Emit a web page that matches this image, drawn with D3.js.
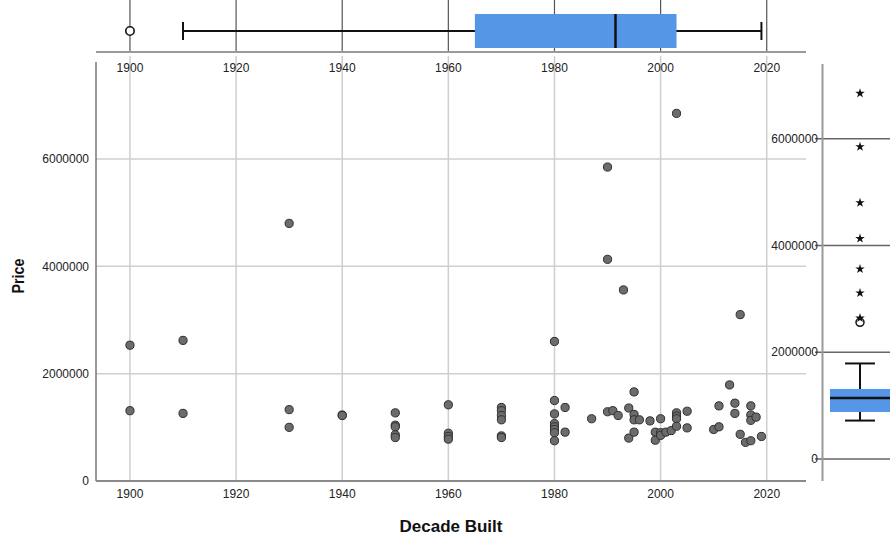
<!DOCTYPE html>
<html>
<head>
<meta charset="utf-8">
<script src="https://cdn.jsdelivr.net/npm/d3@7"></script>
<style>
  html, body { margin: 0; padding: 0; background: #fff; }
  svg { display: block; font-family: "Liberation Sans", Arial, sans-serif; }
</style>
</head>
<body>
<svg id="chart" width="890" height="538"></svg>
<script>
// Year built and sale price, one entry per house
const builtYears = [
  1900, 1900,
  1910, 1910,
  1930, 1930, 1930,
  1940, 1940,
  1950, 1950, 1950, 1950, 1950,
  1960, 1960, 1960, 1960,
  1970, 1970, 1970, 1970, 1970, 1970,
  1980, 1980, 1980, 1980, 1980, 1980, 1980, 1980,
  1982, 1982,
  1987,
  1990, 1990, 1990,
  1991, 1992, 1993,
  1994, 1994,
  1995, 1995, 1995, 1995,
  1996, 1998,
  1999, 1999,
  2000, 2000, 2000,
  2001, 2002,
  2003, 2003, 2003, 2003, 2003,
  2005, 2005,
  2010,
  2011, 2011,
  2013,
  2014, 2014,
  2015, 2015,
  2016,
  2017, 2017, 2017, 2017,
  2018, 2019
];
const prices = [
  2530000, 1310000,
  2620000, 1260000,
  4800000, 1330000, 1000000,
  1230000, 1220000,
  1270000, 1040000, 1010000, 860000, 810000,
  1420000, 890000, 830000, 780000,
  1370000, 1310000, 1220000, 1140000, 840000, 810000,
  2600000, 1500000, 1250000, 1070000, 1010000, 960000, 900000, 750000,
  1370000, 910000,
  1160000,
  5850000, 4130000, 1290000,
  1310000, 1220000, 3560000,
  1360000, 800000,
  1660000, 1240000, 1140000, 910000,
  1140000, 1120000,
  910000, 760000,
  1160000, 900000, 850000,
  910000, 940000,
  6850000, 1270000, 1210000, 1160000, 1020000,
  1300000, 990000,
  960000,
  1400000, 1010000,
  1790000,
  1450000, 1260000,
  3100000, 870000,
  720000,
  1400000, 1230000, 1130000, 750000,
  1190000, 830000
];

// Box plot summaries: [lower whisker, Q1, median, Q3, upper whisker]
const yearBox = [1910, 1965, 1991.5, 2003, 2019];
const yearOutliers = [1900];
const priceBox = [720000, 881000, 1143000, 1312000, 1790000];
const priceOutliers = [2560000];
const priceExtremes = [6850000, 5850000, 4800000, 4130000, 3560000, 3110000, 2640000];

// Axis ticks
const yearTicks = [1900, 1920, 1940, 1960, 1980, 2000, 2020];
const priceTicks = [0, 2000000, 4000000, 6000000];

const svg = d3.select("#chart");
const boxBlue = "#5596e6";

// Scales: shared year scale, main price scale and the marginal price scale
const x = d3.scaleLinear().domain([1893.6, 2027.4]).range([96, 806]);
const y = d3.scaleLinear().domain([0, 7770000]).range([481, 64]);
const yR = d3.scaleLinear().domain([0, 7400000]).range([459, 64]);

const fmt = d3.format("d");

// ---------- main scatter panel ----------
const mainG = svg.append("g");

// vertical grid lines
mainG.selectAll("line.vgrid").data(yearTicks).join("line")
  .attr("x1", d => x(d)).attr("x2", d => x(d))
  .attr("y1", 56).attr("y2", 481)
  .attr("stroke", "#cfcfcf").attr("stroke-width", 1.5);

// horizontal grid lines
mainG.selectAll("line.hgrid").data(priceTicks.filter(d => d > 0)).join("line")
  .attr("x1", 96).attr("x2", 806)
  .attr("y1", d => y(d)).attr("y2", d => y(d))
  .attr("stroke", "#cfcfcf").attr("stroke-width", 1.5);

// left axis line
mainG.append("line")
  .attr("x1", 96).attr("x2", 96).attr("y1", 62).attr("y2", 481)
  .attr("stroke", "#555").attr("stroke-width", 1.2);

// bottom axis line
mainG.append("line")
  .attr("x1", 96).attr("x2", 806).attr("y1", y(0)).attr("y2", y(0))
  .attr("stroke", "#8a8a8a").attr("stroke-width", 2);

// y tick labels
mainG.selectAll("text.ytick").data(priceTicks).join("text")
  .attr("x", 89).attr("y", d => y(d)).attr("dy", "0.35em")
  .attr("text-anchor", "end").attr("font-size", 12).attr("fill", "#222")
  .text(d => fmt(d));

// x tick labels
mainG.selectAll("text.xtick").data(yearTicks).join("text")
  .attr("x", d => x(d)).attr("y", 494).attr("dy", "0.35em")
  .attr("text-anchor", "middle").attr("font-size", 12).attr("fill", "#222")
  .text(d => d);

// points
const points = builtYears.map((yr, i) => ({ yr, price: prices[i] }));
mainG.selectAll("circle.pt").data(points).join("circle")
  .attr("cx", d => x(d.yr)).attr("cy", d => y(d.price))
  .attr("r", 4.1)
  .attr("fill", "#6c6c6c").attr("stroke", "#2e2e2e").attr("stroke-width", 1);

// axis titles
svg.append("text")
  .attr("x", 451).attr("y", 526).attr("dy", "0.35em")
  .attr("text-anchor", "middle").attr("font-size", 17).attr("font-weight", "bold")
  .attr("fill", "#111").text("Decade Built");

svg.append("text")
  .attr("transform", "translate(18,276) rotate(-90)")
  .attr("dy", "0.35em")
  .attr("text-anchor", "middle").attr("font-size", 17).attr("font-weight", "bold")
  .attr("textLength", 35).attr("lengthAdjust", "spacingAndGlyphs")
  .attr("fill", "#111").text("Price");

// ---------- top marginal box plot (year built) ----------
const topG = svg.append("g");
const topMid = 31, topH = 34;

topG.selectAll("line.tgrid").data(yearTicks).join("line")
  .attr("x1", d => x(d)).attr("x2", d => x(d))
  .attr("y1", 0).attr("y2", 52)
  .attr("stroke", "#555").attr("stroke-width", 1.2);

topG.append("line")
  .attr("x1", 96).attr("x2", 806).attr("y1", 52).attr("y2", 52)
  .attr("stroke", "#9a9a9a").attr("stroke-width", 2);

topG.selectAll("text.ttick").data(yearTicks).join("text")
  .attr("x", d => x(d)).attr("y", 68).attr("dy", "0.35em")
  .attr("text-anchor", "middle").attr("font-size", 12).attr("fill", "#222")
  .text(d => d);

// whisker
topG.append("line")
  .attr("x1", x(yearBox[0])).attr("x2", x(yearBox[4]))
  .attr("y1", topMid).attr("y2", topMid)
  .attr("stroke", "#111").attr("stroke-width", 2);
[yearBox[0], yearBox[4]].forEach(v => {
  topG.append("line")
    .attr("x1", x(v)).attr("x2", x(v))
    .attr("y1", topMid - 9).attr("y2", topMid + 9)
    .attr("stroke", "#111").attr("stroke-width", 2);
});
// box
topG.append("rect")
  .attr("x", x(yearBox[1])).attr("width", x(yearBox[3]) - x(yearBox[1]))
  .attr("y", topMid - topH / 2).attr("height", topH)
  .attr("fill", boxBlue);
topG.append("line")
  .attr("x1", x(yearBox[2])).attr("x2", x(yearBox[2]))
  .attr("y1", topMid - topH / 2).attr("y2", topMid + topH / 2)
  .attr("stroke", "#111").attr("stroke-width", 2.5);
// outliers
topG.selectAll("circle.tout").data(yearOutliers).join("circle")
  .attr("cx", d => x(d)).attr("cy", topMid).attr("r", 4.2)
  .attr("fill", "#fff").attr("stroke", "#111").attr("stroke-width", 1.6);

// ---------- right marginal box plot (price) ----------
const rightG = svg.append("g");
const rMid = 860, rBoxL = 830, rBoxR = 892;

rightG.selectAll("line.rgrid").data(priceTicks).join("line")
  .attr("x1", 815).attr("x2", 890)
  .attr("y1", d => yR(d)).attr("y2", d => yR(d))
  .attr("stroke", "#666").attr("stroke-width", 1.5);

rightG.append("line")
  .attr("x1", 822.5).attr("x2", 822.5).attr("y1", 64).attr("y2", 481)
  .attr("stroke", "#999").attr("stroke-width", 2);

rightG.selectAll("text.rtick").data(priceTicks).join("text")
  .attr("x", 818).attr("y", d => yR(d)).attr("dy", "0.35em")
  .attr("text-anchor", "end").attr("font-size", 12).attr("fill", "#222")
  .text(d => fmt(d));

// whisker
rightG.append("line")
  .attr("x1", rMid).attr("x2", rMid)
  .attr("y1", yR(priceBox[0])).attr("y2", yR(priceBox[4]))
  .attr("stroke", "#111").attr("stroke-width", 2);
[priceBox[0], priceBox[4]].forEach(v => {
  rightG.append("line")
    .attr("x1", rMid - 15).attr("x2", rMid + 15)
    .attr("y1", yR(v)).attr("y2", yR(v))
    .attr("stroke", "#111").attr("stroke-width", 2);
});
rightG.append("rect")
  .attr("x", rBoxL).attr("width", rBoxR - rBoxL)
  .attr("y", yR(priceBox[3])).attr("height", yR(priceBox[1]) - yR(priceBox[3]))
  .attr("fill", boxBlue);
rightG.append("line")
  .attr("x1", rBoxL).attr("x2", rBoxR)
  .attr("y1", yR(priceBox[2])).attr("y2", yR(priceBox[2]))
  .attr("stroke", "#111").attr("stroke-width", 2.5);

rightG.selectAll("circle.rout").data(priceOutliers).join("circle")
  .attr("cx", rMid).attr("cy", d => yR(d)).attr("r", 4)
  .attr("fill", "#fff").attr("stroke", "#111").attr("stroke-width", 1.5);

rightG.selectAll("path.rext").data(priceExtremes).join("path")
  .attr("transform", d => `translate(${rMid},${yR(d)})`)
  .attr("d", d3.symbol().type(d3.symbolStar).size(28))
  .attr("fill", "#111");
</script>
</body>
</html>
